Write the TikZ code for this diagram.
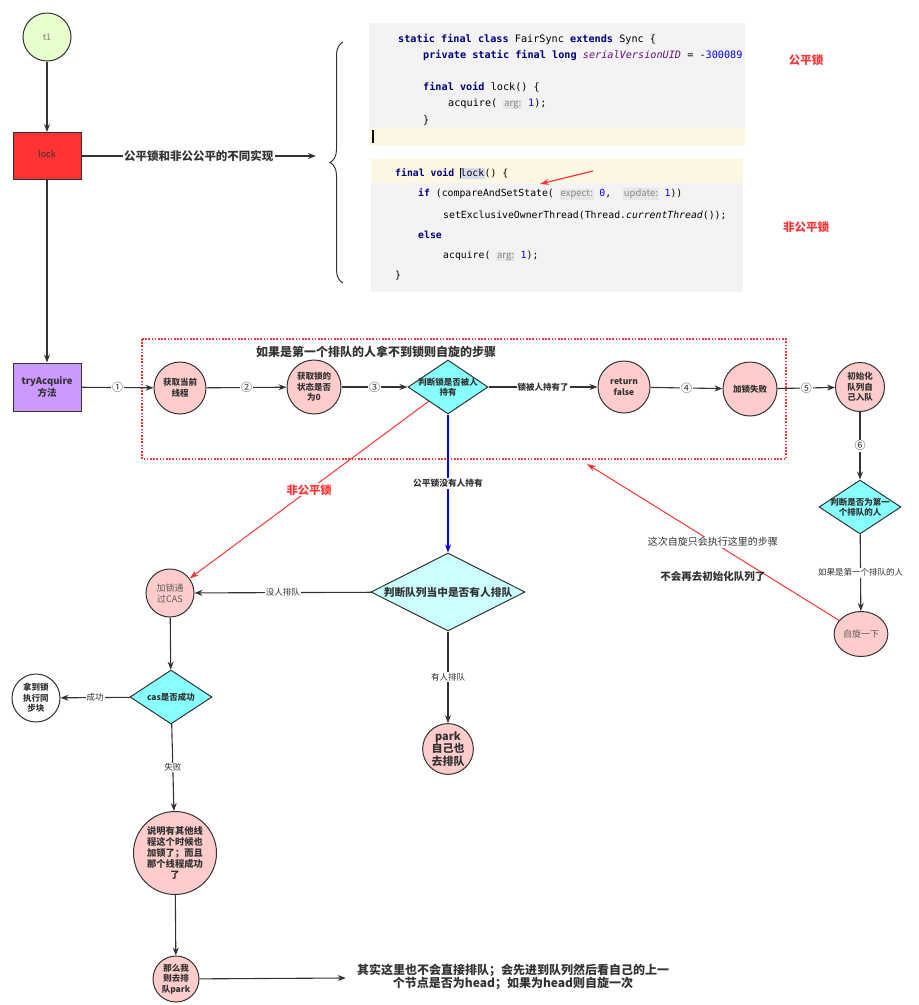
\documentclass[tikz,border=0pt]{standalone}
\usepackage{fontspec}
\setmainfont{Noto Sans CJK SC}
\newfontfamily\codefont{DejaVu Sans Mono}
\usetikzlibrary{shapes.geometric,arrows.meta,decorations.pathreplacing}
\definecolor{edge}{HTML}{333333}
\definecolor{redline}{HTML}{FF3333}
\definecolor{pinkfill}{HTML}{FFCCCC}
\definecolor{cyanfill}{HTML}{88FFFF}
\definecolor{cyanpale}{HTML}{CCFFFF}
\definecolor{greenfill}{HTML}{E6FFCC}
\definecolor{purplefill}{HTML}{CC99FF}
\definecolor{codebg}{HTML}{F3F3F3}
\definecolor{linebg}{HTML}{FBF7E2}
\definecolor{kwblue}{HTML}{000080}
\definecolor{numblue}{HTML}{0000FF}
\definecolor{fieldpurple}{HTML}{660E7A}
\definecolor{hintbg}{HTML}{E6E6E6}
\definecolor{hintgray}{HTML}{8A8A8A}
\definecolor{selbg}{HTML}{D8DCF0}
\newcommand\codekw[1]{\textbf{\color{kwblue}#1}}
\newcommand\codenum[1]{{\color{numblue}#1}}
\newcommand\codehint[1]{{\setlength\fboxsep{0.8pt}\colorbox{hintbg}{\rmfamily\fontsize{9.5}{10}\selectfont\color{hintgray}#1}}}
\newcommand\fs[1]{\fontsize{#1}{#1}\selectfont}
\begin{document}
\begin{tikzpicture}[x=1pt,y=-1pt,
 arr/.style={draw=edge,line width=1.1pt,-{Stealth[length=8pt,width=6pt]}},
 redarr/.style={draw=redline,line width=1pt,-{Stealth[length=9pt,width=6pt]}},
 bluearr/.style={draw=blue,line width=1.2pt,-{Stealth[length=8pt,width=6pt]}},
 stepc/.style={shape=circle,draw=edge,line width=1pt,fill=pinkfill,inner sep=1pt,align=center,text=edge,font=\fontsize{8.5}{10.5}\selectfont\bfseries},
 dia/.style={shape=diamond,draw=edge,line width=1pt,fill=cyanfill,inner sep=0pt},
 diatext/.style={align=center,text=edge,inner sep=0pt,font=\fontsize{8.5}{10.5}\selectfont\bfseries},
 boxn/.style={shape=rectangle,draw=edge,line width=1pt,minimum width=68pt,minimum height=47pt,align=center},
 lbl/.style={fill=white,inner sep=1pt,text=edge,font=\fontsize{8.5}{10}\selectfont},
 numlbl/.style={lbl,font=\fs{11}},
 code/.style={anchor=west,inner sep=0pt,font=\codefont\fontsize{10.2}{12}\selectfont},
 codeb/.style={anchor=west,inner sep=0pt,font=\codefont\fontsize{9.8}{12}\selectfont}]
\useasboundingbox (0,0) rectangle (919,1005);
% code screenshots
\fill[codebg] (369,23) rectangle (745,146);
\fill[linebg] (369,128) rectangle (745,146);
\fill[codebg] (371,159) rectangle (743,292);
\fill[linebg] (371,159) rectangle (743,183);
\node[code] (fair 1) at (398,39) {\codekw{static final class} FairSync \codekw{extends} Sync \{};
\node[code] (fair 2) at (423,55) {\codekw{private static final long} {\color{fieldpurple}\textit{serialVersionUID}} = -\codenum{300089}};
\node[code] (fair 3) at (423,87) {\codekw{final void} lock() \{};
\node[code] (fair 4) at (448,104) {acquire( \codehint{arg:} \codenum{1});};
\node[code] (fair 5) at (423,120) {\}};
\draw[line width=1.3pt] (373,130) -- (373,143);
\node[codeb] (unfair 1) at (395,173) {\codekw{final void} {\setlength\fboxsep{0.5pt}\colorbox{selbg}{\makebox[0pt]{\rule[-2pt]{0.7pt}{10pt}}lock}}() \{};
\node[codeb] (unfair 2) at (418,194) {\codekw{if} (compareAndSetState( \codehint{expect:} \codenum{0},~ \codehint{update:} \codenum{1}))};
\node[codeb] (unfair 3) at (443,215) {setExclusiveOwnerThread(Thread.\textit{currentThread}());};
\node[codeb] (unfair 4) at (418,235) {\codekw{else}};
\node[codeb] (unfair 5) at (443,256) {acquire( \codehint{arg:} \codenum{1});};
\node[codeb] (unfair 6) at (395,276) {\}};
\coordinate (mark a) at (593,171);
\coordinate (mark b) at (540,184);
\draw[redarr,line width=1.2pt] (mark a) -- (mark b);
\node (fair lbl) at (806,60) [text=redline,font=\fs{11.5}\bfseries] {公平锁};
\node (unfair lbl) at (806,227) [text=redline,font=\fs{11.5}\bfseries] {非公平锁};
\draw[edge,line width=1pt,decorate,decoration={brace,amplitude=13pt}] (343,283) -- (343,42);
% main flow
\node (thread) at (47,37) [shape=circle,draw=edge,line width=1pt,fill=greenfill,minimum size=48pt,text=gray,font=\fs{9}] {t1};
\node (lock) at (47,156) [boxn,fill=redline,text=edge,font=\fs{9}] {\raisebox{5pt}{lock}};
\node (try acq) at (47,387) [boxn,minimum height=48pt,fill=purplefill,text=edge,font=\fontsize{9.5}{11.5}\selectfont\bfseries] {tryAcquire\\方法};
\coordinate (impl) at (316,156);
\draw[arr] (thread) -- (lock);
\draw[arr] (lock) -- (try acq);
\draw[arr] (lock) -- node[lbl,font=\fs{11.5}\bfseries] {公平锁和非公公平的不同实现} (impl);
\draw[redline,line width=1.6pt,dash pattern=on 1.6pt off 1.6pt] (142,339) rectangle (786,459);
\node (spin title) at (376,352) [text=edge,font=\fs{12}\bfseries] {如果是第一个排队的人拿不到锁则自旋的步骤};
\node (get thread) at (180,388) [stepc,minimum size=52pt] {获取当前\\线程};
\node (get state) at (314,387) [stepc,minimum size=54pt] {获取锁的\\状态是否\\为0};
\node (judge held) at (448,387) [dia,minimum width=80pt,minimum height=54pt,label={[diatext]center:判断锁是否被人\\持有}] {};
\node (ret false) at (624,387) [stepc,minimum size=52pt] {return\\false};
\node (lock fail) at (750,389) [stepc,minimum size=54pt] {加锁失败};
\node (init queue) at (860,387) [stepc,minimum size=49pt] {初始化\\队列自\\己入队};
\node (judge first) at (860,507) [dia,minimum width=82pt,minimum height=54pt,label={[diatext]center:判断是否为第一\\个排队的人}] {};
\node (spin) at (861,634) [shape=ellipse,draw=edge,line width=1pt,fill=pinkfill,minimum width=51pt,minimum height=45pt,inner sep=1pt,text=edge!80,font=\fs{9}] {自旋一下};
\coordinate (back) at (587,464);
\draw[arr] (try acq) -- node[numlbl] {①} (get thread);
\draw[arr] (get thread) -- node[numlbl] {②} (get state);
\draw[arr] (get state) -- node[numlbl] {③} (judge held);
\draw[arr] (judge held) -- node[lbl,font=\fs{8.5}\bfseries] {锁被人持有了} (ret false);
\draw[arr] (ret false) -- node[numlbl] {④} (lock fail);
\draw[arr] (lock fail) -- node[numlbl] {⑤} (init queue);
\draw[arr] (init queue) -- node[numlbl] {⑥} (judge first);
\draw[arr] (judge first) -- node[lbl] {如果是第一个排队的人} (spin);
\draw[redarr] (spin) -- node[lbl,font=\fs{10}] {这次自旋只会执行这里的步骤}
  node[pos=0.5,yshift=-34.5pt,text=edge,font=\fs{10.5}\bfseries] {不会再去初始化队列了} (back);
% fair / unfair branch
\node (judge queue) at (448,592) [dia,fill=cyanpale,minimum width=154pt,minimum height=78pt,label={[diatext,font=\fs{10.7}\bfseries]center:判断队列当中是否有人排队}] {};
\node (cas lock) at (170,593) [stepc,minimum size=48pt,text=edge!80,font=\fontsize{9}{11}\selectfont] {加锁通\\过CAS};
\node (park) at (448,749) [stepc,minimum size=48pt,font=\fontsize{11}{12.5}\selectfont\bfseries] {park\\自己也\\去排队};
\node (cas ok) at (171,697) [dia,minimum width=82pt,minimum height=54pt,label={[diatext]center:cas是否成功}] {};
\node (got lock) at (36,698) [stepc,fill=white,minimum size=48pt,font=\fontsize{8.5}{10.5}\selectfont\bfseries] {拿到锁\\执行同\\步块};
\node (other thread) at (175,853) [stepc,minimum size=83pt,font=\fontsize{9.3}{11}\selectfont\bfseries] {说明有其他线\\程这个时候也\\加锁了；而且\\那个线程成功\\了};
\node (park self) at (176,979) [stepc,minimum size=46pt] {那么我\\则去排\\队park};
\node (note) at (513,977) [inner xsep=11pt,inner ysep=1pt,align=center,text=edge,font=\fontsize{12}{13.5}\selectfont\bfseries] {其实这里也不会直接排队；会先进到队列然后看自己的上一\\个节点是否为head；如果为head则自旋一次};
\draw[redarr] (judge held) -- node[lbl,text=redline,font=\fs{11.3}\bfseries] {非公平锁} (cas lock);
\draw[bluearr] (judge held) -- node[lbl,font=\fs{8.7}\bfseries] {公平锁没有人持有} (judge queue);
\draw[arr] (judge queue) -- node[lbl] {没人排队} (cas lock);
\draw[arr] (judge queue) -- node[lbl] {有人排队} (park);
\draw[arr] (cas lock) -- (cas ok);
\draw[arr] (cas ok) -- node[lbl] {成功} (got lock);
\draw[arr] (cas ok) -- node[lbl] {失败} (other thread);
\draw[arr] (other thread) -- (park self);
\draw[arr] (park self) -- (note);
\end{tikzpicture}
\end{document}
